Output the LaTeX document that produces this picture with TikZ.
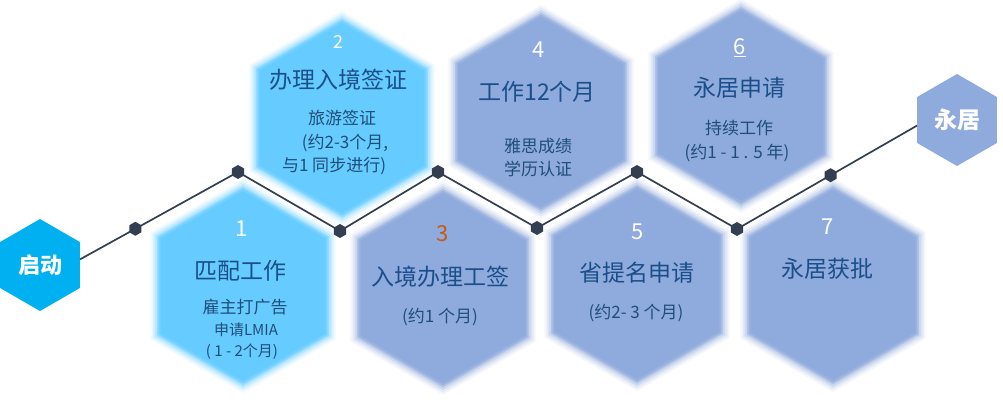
\documentclass[tikz,border=0pt]{standalone}
\usepackage{fontspec}
\setmainfont{Noto Sans CJK SC}
\usetikzlibrary{shapes.geometric,calc}
\definecolor{lblue}{HTML}{66CCFF}
\definecolor{peri}{HTML}{8FAADC}
\definecolor{startc}{HTML}{00B0F0}
\definecolor{dotc}{HTML}{333F50}
\definecolor{ttl}{HTML}{1B4F8A}
\definecolor{subc}{HTML}{1F4E79}
\definecolor{numthree}{HTML}{C55A11}
\tikzset{
  hexshape/.style={regular polygon, regular polygon sides=6, shape border rotate=30, inner sep=0pt, draw=none},
  dothex/.style={hexshape, fill=dotc, minimum size=14pt},
  conn/.style={draw=dotc, line width=1.7pt},
  numtxt/.style={text=white, font=\fontsize{22}{24}\selectfont, inner sep=0pt},
  ttltxt/.style={text=ttl, font=\fontsize{23}{26}\selectfont, inner sep=0pt},
  subtxt/.style={text=subc, font=\fontsize{17}{20}\selectfont, inner sep=0pt},
  smalltxt/.style={text=subc, font=\fontsize{15}{18}\selectfont, inner sep=0pt},
  endtxt/.style={text=white, font=\bfseries\fontsize{22}{24}\selectfont},
}
% soft halo rings (solid tints on white, no transparency)
\newcommand{\halohex}[2]{%
  \node[hexshape, fill=#2!10!white, minimum size=214pt] at (#1) {};
  \node[hexshape, fill=#2!25!white, minimum size=209pt] at (#1) {};
  \node[hexshape, fill=#2!45!white, minimum size=204pt] at (#1) {};
  \node[hexshape, fill=#2!70!white, minimum size=199pt] at (#1) {};
  \node[hexshape, fill=#2!90!white, minimum size=195pt] at (#1) {};
}
\newcommand{\corehex}[3]{%
  \node[hexshape, fill=#3, minimum size=190pt] (#1) at (#2) {};
}
\begin{document}
\begin{tikzpicture}[x=1pt,y=-1pt]
\useasboundingbox (0,0) rectangle (1003,403);
% halos
\halohex{342,118}{lblue}
\halohex{541,112}{peri}
\halohex{741,106}{peri}
\halohex{243,286}{lblue}
\halohex{443,288}{peri}
\halohex{637,284}{peri}
\halohex{833,285}{peri}
% big hexagons
\corehex{h2}{342,118}{lblue}
\corehex{h4}{541,112}{peri}
\corehex{h6}{741,106}{peri}
\corehex{h1}{243,286}{lblue}
\corehex{h3}{443,288}{peri}
\corehex{h5}{637,284}{peri}
\corehex{h7}{833,285}{peri}
% start and end
\node[hexshape, fill=startc, minimum size=92pt] (start) at (40,265) {};
\node[endtxt] (starttxt) at (start.center) {启动};
\node[hexshape, fill=peri, minimum size=92pt] (fin) at (957,120) {};
\node[endtxt, font=\bfseries\fontsize{23}{25}\selectfont] (fintxt) at (fin.center) {永居};
% zigzag
\coordinate (c2) at (238,172);
\coordinate (c3) at (340,231);
\coordinate (c4) at (438,172);
\coordinate (c5) at (537,228);
\coordinate (c6) at (637,172);
\coordinate (c7) at (737,229);
\draw[conn] (start.8) -- (c2) -- (c3) -- (c4) -- (c5) -- (c6) -- (c7) -- (fin.188);
\coordinate (c1) at ($(start.8)!0.35!(c2)$);
\coordinate (c8) at ($(c7)!0.52!(fin.188)$);
\foreach \i in {1,...,8} { \node[dothex] (d\i) at (c\i) {}; }
% texts hex 1
\node[numtxt] (n1) at (242,229) {1};
\node[ttltxt] (t1) at (240,271) {匹配工作};
\node[subtxt] (s1a) at (245,307) {雇主打广告};
\node[smalltxt] (s1b) at (246,330) {申请LMIA};
\node[smalltxt] (s1c) at (242,352) {( 1 - 2个月)};
% hex 2
\node[numtxt, font=\fontsize{18}{20}\selectfont] (n2) at (338,42) {2};
\node[ttltxt] (t2) at (338,80) {办理入境签证};
\node[subtxt] (s2a) at (342,118) {旅游签证};
\node[subtxt] (s2b) at (345,143) {(约2-3个月,};
\node[subtxt] (s2c) at (334,166) {与1 同步进行)};
% hex 3
\node[numtxt, text=numthree] (n3) at (443,234) {3};
\node[ttltxt] (t3) at (440,277) {入境办理工签};
\node[subtxt] (s3) at (440,317) {(约1 个月)};
% hex 4
\node[numtxt] (n4) at (539,50) {4};
\node[ttltxt] (t4) at (537,92) {工作12个月};
\node[subtxt] (s4a) at (538,146) {雅思成绩};
\node[subtxt] (s4b) at (538,169) {学历认证};
% hex 5
\node[numtxt] (n5) at (638,232) {5};
\node[ttltxt] (t5) at (637,273) {省提名申请};
\node[subtxt] (s5) at (636,313) {(约2- 3 个月)};
% hex 6
\node[numtxt] (n6) at (740,48) {\underline{6}};
\node[ttltxt] (t6) at (739,88) {永居申请};
\node[subtxt] (s6a) at (739,128) {持续工作};
\node[subtxt] (s6b) at (737,153) {(约1 - 1 . 5 年)};
% hex 7
\node[numtxt] (n7) at (828,227) {7};
\node[ttltxt] (t7) at (827,269) {永居获批};
\end{tikzpicture}
\end{document}
